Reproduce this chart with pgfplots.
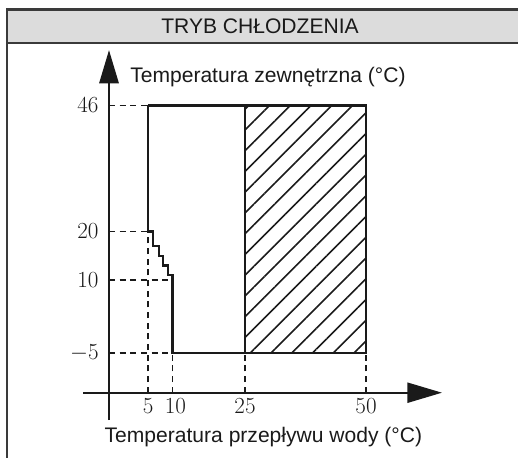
\documentclass[border=0pt]{standalone}
\usepackage{pgfplots}
\pgfplotsset{compat=1.18}
\usepackage{fontspec}
\setmainfont{Liberation Sans}
\usetikzlibrary{arrows.meta,patterns.meta}
\definecolor{frameGray}{HTML}{3A3A3A}
\definecolor{headGray}{HTML}{DCDCDC}
\definecolor{ink}{HTML}{1A1A1A}
\tikzset{
  dashline/.style={ink, line width=1.2pt, dash pattern=on 4.5pt off 3.5pt},
  solid line/.style={ink, line width=1.7pt},
  tick font/.style={font=\fontsize{17}{19}\selectfont, text=ink, inner sep=0pt},
  lab font/.style={font=\fontsize{15.8}{18}\selectfont, text=ink, inner sep=0pt},
}

\begin{document}
\begin{tikzpicture}
\begin{axis}[
  scale only axis, width=388.5pt, height=343.5pt,
  xmin=-25.62, xmax=81.40, ymin=-26.70, ymax=67.73,
  hide axis, clip=false,
]
  \coordinate (SW) at (rel axis cs:0,0);
  \coordinate (NE) at (rel axis cs:1,1);

  % frame and header band
  \fill[headGray] (axis cs:-24.17,58.87) rectangle (axis cs:90,65.77);
  \draw[frameGray, line width=2pt] (axis cs:-24.17,-40) -- (axis cs:-24.17,65.77) -- (axis cs:90,65.77);
  \draw[frameGray, line width=1.5pt] (axis cs:-24.17,58.87) -- (axis cs:90,58.87);
  \node[lab font] at (axis cs:28.1,62.37) {TRYB CHŁODZENIA};

  % hatched region
  \addplot[draw=none, pattern={Lines[angle=45,distance=11pt,line width=1.2pt]}, pattern color=ink]
    coordinates {(25,-5) (50,-5) (50,46) (25,46)};

  % dashed guide lines
  \addplot[dashline] coordinates {(-3.1,46) (5,46)};
  \addplot[dashline] coordinates {(-3.1,20) (5,20)};
  \addplot[dashline] coordinates {(-3.1,10) (10,10)};
  \addplot[dashline] coordinates {(-3.1,-5) (10,-5)};
  \addplot[dashline] coordinates {(5,-13.24) (5,20)};
  \addplot[dashline] coordinates {(10,-13.24) (10,-5)};
  \addplot[dashline] coordinates {(25,-13.24) (25,-5)};
  \addplot[dashline] coordinates {(50,-13.24) (50,-5)};

  % operating envelope
  \addplot[solid line] coordinates {
    (5,46) (5,20) (6,20) (6,17) (7.2,17) (7.2,15) (8.1,15) (8.1,13)
    (9.1,13) (9.1,11) (10,11) (10,-5) (50,-5) (50,46) (5,46)
  };
  \addplot[solid line] coordinates {(25,-5) (25,46)};

  % axes
  \addplot[solid line, -{Triangle[length=25pt,width=14.5pt]}]
    coordinates {(-3.1,-18.87) (-3.1,57.4)};
  \addplot[solid line, -{Triangle[length=26pt,width=15pt]}]
    coordinates {(-8.47,-13.24) (65.7,-13.24)};

  % tick labels
  \node[tick font, anchor=east] at (axis cs:-5.2,46) {$46$};
  \node[tick font, anchor=east] at (axis cs:-5.2,20) {$20$};
  \node[tick font, anchor=east] at (axis cs:-5.2,10) {$10$};
  \node[tick font, anchor=east] at (axis cs:-5.2,-5) {$-5$};
  \node[tick font, anchor=base] at (axis cs:5,-17.6) {$5$};
  \node[tick font, anchor=base] at (axis cs:10.6,-17.6) {$10$};
  \node[tick font, anchor=base] at (axis cs:25,-17.6) {$25$};
  \node[tick font, anchor=base] at (axis cs:50,-17.6) {$50$};

  % axis titles
  \node[lab font, anchor=west] at (axis cs:1.24,51.86) {Temperatura zewnętrzna (°C)};
  \node[lab font] at (axis cs:28.8,-22.37) {Temperatura przepływu wody (°C)};
\end{axis}
\pgfresetboundingbox
\useasboundingbox (SW) rectangle (NE);
\end{tikzpicture}
\end{document}
